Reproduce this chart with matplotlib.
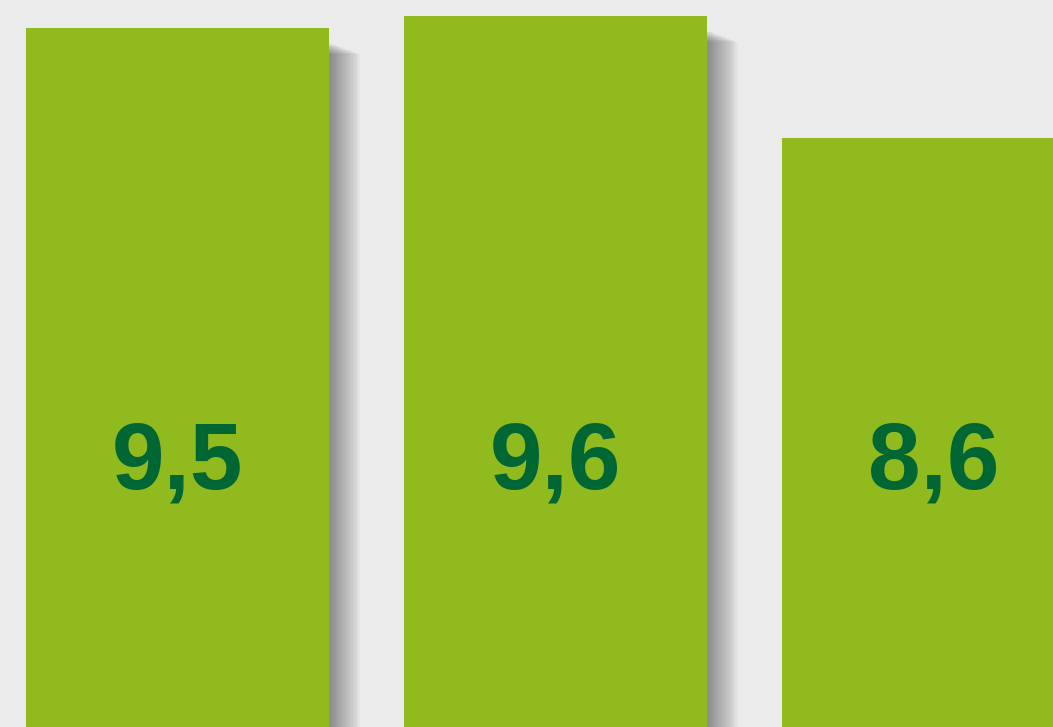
import numpy as np
import matplotlib.pyplot as plt
import matplotlib.transforms as mtransforms

values = [9.5, 9.6, 8.6]
labels = ['9,5', '9,6', '8,6']

bar_color = '#90BA1E'
text_color = '#006633'
bg_color = '#EBEBEB'

fig = plt.figure(figsize=(10.53, 7.27), dpi=100)
fig.patch.set_facecolor(bg_color)
ax = fig.add_axes([0, 0, 1, 1])
ax.set_facecolor(bg_color)

x = np.arange(len(values))
width = 0.8
px = 1 / 378.0  # one pixel in x data units

# soft drop shadow to the right of each bar
for k in range(16):
    off = (3 + k * 1.9) * px
    ax.bar(x + off, np.array(values) - 0.12 - k * 0.006, width=width,
           color='black', alpha=0.028, linewidth=0, zorder=1)

ax.bar(x, values, width=width, color=bar_color, linewidth=0, zorder=2)

trans = mtransforms.blended_transform_factory(ax.transData, ax.transAxes)
for xi, lab in zip(x, labels):
    ax.text(xi, 0.362, lab, transform=trans, ha='center', va='center',
            fontsize=68, fontweight='bold', color=text_color, zorder=3,
            family=['Liberation Sans', 'DejaVu Sans'])

ax.set_xlim(-0.47, 2.316)
ax.set_ylim(3.774, 9.733)
ax.axis('off')

plt.savefig('out.png', dpi=100, facecolor=bg_color)
